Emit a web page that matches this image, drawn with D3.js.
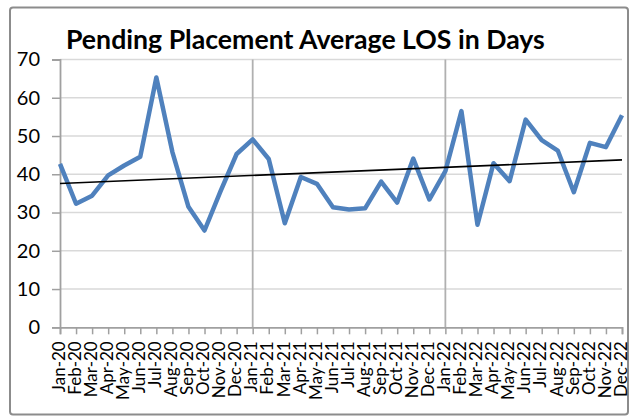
<!DOCTYPE html>
<html><head><meta charset="utf-8">
<script src="https://cdn.jsdelivr.net/npm/d3@7"></script>
<style>body{margin:0;background:#fff}svg{display:block}</style>
</head><body>
<svg id="c" width="630" height="417"></svg>
<script>
const months = ["Jan-20","Feb-20","Mar-20","Apr-20","May-20","Jun-20","Jul-20","Aug-20","Sep-20","Oct-20","Nov-20","Dec-20",
"Jan-21","Feb-21","Mar-21","Apr-21","May-21","Jun-21","Jul-21","Aug-21","Sep-21","Oct-21","Nov-21","Dec-21",
"Jan-22","Feb-22","Mar-22","Apr-22","May-22","Jun-22","Jul-22","Aug-22","Sep-22","Oct-22","Nov-22","Dec-22"];
const losValues = [42.7,32.3,34.4,39.7,42.3,44.6,65.3,45.8,31.5,25.3,35.6,45.3,
49.1,44.0,27.2,39.3,37.5,31.4,30.8,31.1,38.1,32.6,44.1,33.4,
40.8,56.5,26.8,42.9,38.2,54.3,48.9,46.2,35.3,48.2,47.1,55.4];
const yTicks = [0,10,20,30,40,50,60,70];
const title = "Pending Placement Average LOS in Days";

const svg = d3.select("#c");
const font = "Lato, 'Open Sans', sans-serif";
const m = {l:60, r:622, t:59.5, b:327.3};

svg.append("rect").attr("x",10).attr("y",7.5).attr("width",618).attr("height",407)
  .attr("rx",3).attr("fill","#fff").attr("stroke","#8c8c8c").attr("stroke-width",2);

const x = d3.scalePoint().domain(months).range([m.l, m.r]);
const y = d3.scaleLinear().domain([0,70]).range([m.b, m.t]);

// horizontal gridlines
svg.append("g").selectAll("line").data(yTicks.filter(d=>d>0)).join("line")
  .attr("x1",m.l).attr("x2",m.r).attr("y1",d=>y(d)).attr("y2",d=>y(d))
  .attr("stroke","#d9d9d9").attr("stroke-width",1.5);
// vertical major gridlines every 12 months
svg.append("g").selectAll("line").data(months.filter((d,i)=>i>0 && i%12===0)).join("line")
  .attr("x1",d=>x(d)).attr("x2",d=>x(d)).attr("y1",m.t).attr("y2",m.b)
  .attr("stroke","#b0b0b0").attr("stroke-width",1.8);

// y axis
const ya = svg.append("g").attr("transform",`translate(${m.l},0)`)
  .call(d3.axisLeft(y).tickValues(yTicks).tickSize(8).tickPadding(12).tickFormat(d3.format("d")));
ya.select(".domain").attr("stroke","#a0a0a0").attr("stroke-width",1.8);
ya.selectAll(".tick line").attr("stroke","#a0a0a0").attr("stroke-width",1.5);
ya.selectAll("text").attr("font-family",font).attr("font-size",20).attr("fill","#000");

// x axis
const xa = svg.append("g").attr("transform",`translate(0,${m.b})`)
  .call(d3.axisBottom(x).tickSize(7).tickPadding(8));
xa.select(".domain").attr("stroke","#a0a0a0").attr("stroke-width",1.8);
xa.selectAll(".tick line").attr("stroke","#a0a0a0").attr("stroke-width",1.5);
xa.selectAll("text").attr("font-family",font).attr("font-size",17).attr("fill","#000")
  .attr("transform","rotate(-90)").attr("text-anchor","end").attr("dy","0.25em").attr("x",-14).attr("y",0);

// data line
const line = d3.line().x((d,i)=>x(months[i])).y(d=>y(d));
svg.append("path").datum(losValues).attr("d",line).attr("fill","none")
  .attr("stroke","#4f81bd").attr("stroke-width",4.5).attr("stroke-linejoin","round");

// linear trendline (least squares)
const n = losValues.length;
const mx = d3.mean(losValues,(d,i)=>i), my = d3.mean(losValues);
const slope = d3.sum(losValues,(d,i)=>(i-mx)*(d-my))/d3.sum(losValues,(d,i)=>(i-mx)*(i-mx));
const icpt = my - slope*mx;
svg.append("line").attr("x1",x(months[0])).attr("y1",y(icpt))
  .attr("x2",x(months[n-1])).attr("y2",y(icpt+slope*(n-1)))
  .attr("stroke","#000").attr("stroke-width",1.6);

// title
const t = svg.append("text").attr("x",66).attr("y",49).attr("font-family",font)
  .attr("font-weight","bold").attr("font-size",24).attr("fill","#000").text(title);
const w = t.node().getComputedTextLength();
t.attr("font-size",24*479/w);
</script>
</body></html>
